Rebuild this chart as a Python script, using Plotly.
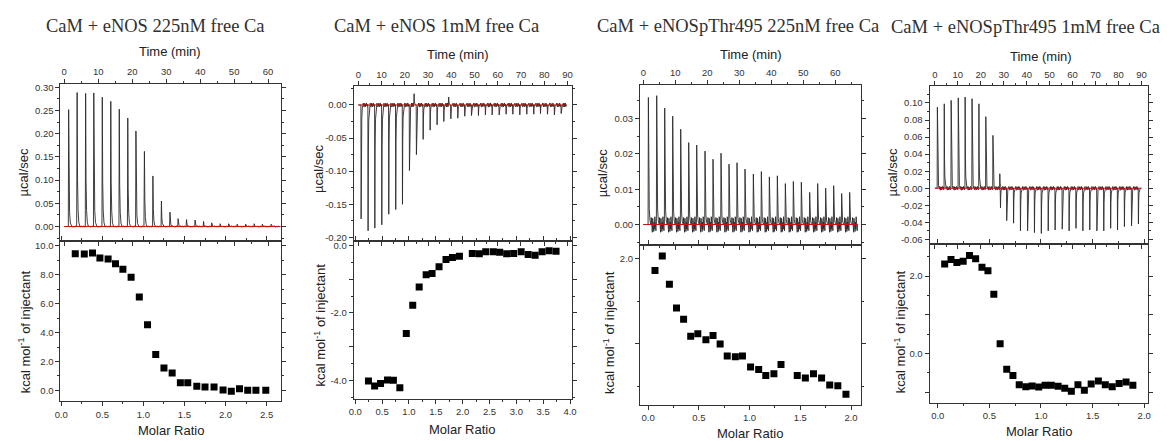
import plotly.graph_objects as go

W, H = 1167, 441

# ---------------- data ----------------
titles = ["CaM + eNOS 225nM free Ca", "CaM + eNOS 1mM free Ca",
          "CaM + eNOSpThr495 225nM free Ca", "CaM + eNOSpThr495 1mM free Ca"]

# raw thermograms: injection times (min) and peak heights (µcal/sec)
p1_inj_t = [1.2, 3.7, 6.2, 8.6, 11.1, 13.6, 16.1, 18.6, 21.0, 23.5, 26.0, 28.5, 31.0,
            33.4, 35.9, 38.4, 40.9, 43.3, 45.8, 48.3, 50.8, 53.3, 55.8, 58.2, 60.8]
p1_peak = [0.252, 0.289, 0.287, 0.288, 0.279, 0.270, 0.253, 0.234, 0.206, 0.162, 0.109,
           0.055, 0.031, 0.017, 0.015, 0.014, 0.011, 0.008, 0.006, 0.006, 0.005, 0.005,
           0.006, 0.005, 0.005]

p2_inj_t = [1.1, 4.1, 7.0, 10.0, 13.0, 16.0, 18.9, 21.9, 23.9, 24.9, 27.8, 30.8, 33.8,
            36.7, 38.8, 39.7, 42.7, 45.7, 48.6, 51.6, 54.6, 57.5, 60.5, 63.5, 66.4, 69.4,
            72.4, 75.4, 78.3, 81.3, 84.3, 87.2]
p2_peak = [-0.172, -0.190, -0.186, -0.181, -0.165, -0.158, -0.150, -0.099, 0.017, -0.075,
           -0.052, -0.038, -0.030, -0.025, 0.012, -0.021, -0.020, -0.017, -0.016, -0.016,
           -0.015, -0.015, -0.015, -0.014, -0.014, -0.015, -0.014, -0.014, -0.013, -0.014,
           -0.015, -0.013]

p3_inj_t = [1.5, 4.1, 6.6, 9.1, 11.6, 14.1, 16.6, 19.2, 21.7, 24.2, 26.7, 29.2, 31.7,
            34.3, 36.8, 39.3, 41.8, 44.3, 46.8, 49.3, 51.9, 54.4, 56.9, 59.4, 61.9, 64.4]
p3_peak = [0.0360, 0.0365, 0.0330, 0.0307, 0.0270, 0.0232, 0.0225, 0.0208, 0.0185, 0.0202,
           0.0171, 0.0175, 0.0157, 0.0143, 0.0150, 0.0135, 0.0138, 0.0116, 0.0122, 0.0120,
           0.0091, 0.0116, 0.0103, 0.0110, 0.0088, 0.0091]

p4_inj_t = [1.0, 4.0, 7.0, 10.1, 13.1, 16.1, 19.1, 22.1, 25.2, 28.2, 28.5, 31.2, 34.2,
            37.2, 40.3, 43.3, 46.3, 49.3, 52.3, 55.4, 58.4, 61.4, 64.4, 67.4, 70.5, 73.5,
            76.5, 79.5, 82.5, 85.6, 88.6]
p4_peak = [0.095, 0.099, 0.103, 0.106, 0.107, 0.105, 0.099, 0.084, 0.062, 0.017, -0.023,
           -0.038, -0.041, -0.050, -0.050, -0.052, -0.053, -0.050, -0.049, -0.048, -0.050,
           -0.047, -0.050, -0.049, -0.050, -0.050, -0.047, -0.049, -0.045, -0.044, -0.042]

# baseline noise amplitude of each recording (µcal/sec)
noise_amp = [0.0015, 0.003, 0.0022, 0.0022]

# integrated heats: molar ratio and kcal/mol of injectant
p1_ratio = [0.17, 0.28, 0.38, 0.47, 0.57, 0.66, 0.75, 0.85, 0.95, 1.05, 1.15, 1.25, 1.35,
            1.45, 1.54, 1.65, 1.75, 1.86, 1.97, 2.07, 2.17, 2.27, 2.37, 2.49]
p1_heat = [9.47, 9.45, 9.52, 9.17, 9.10, 8.76, 8.39, 7.84, 6.47, 4.54, 2.48, 1.54, 1.19,
           0.53, 0.53, 0.28, 0.23, 0.23, 0.02, -0.07, 0.11, 0.0, 0.0, 0.0]

p2_ratio = [0.245, 0.36, 0.47, 0.60, 0.71, 0.83, 0.95, 1.07, 1.19, 1.32, 1.43, 1.56, 1.69,
            1.81, 1.94, 2.18, 2.31, 2.43, 2.57, 2.69, 2.82, 2.95, 3.09, 3.22, 3.35, 3.48,
            3.61, 3.74]
p2_heat = [-4.02, -4.17, -4.09, -3.99, -4.00, -4.22, -2.61, -1.77, -1.23, -0.87, -0.83,
           -0.63, -0.42, -0.36, -0.32, -0.24, -0.25, -0.19, -0.19, -0.20, -0.25, -0.24,
           -0.19, -0.27, -0.29, -0.19, -0.16, -0.17]

p3_ratio = [0.068, 0.14, 0.21, 0.28, 0.35, 0.42, 0.49, 0.57, 0.64, 0.71, 0.78, 0.86, 0.93,
            1.01, 1.09, 1.16, 1.24, 1.31, 1.47, 1.55, 1.63, 1.71, 1.79, 1.87, 1.95]
p3_heat = [1.86, 2.03, 1.70, 1.42, 1.29, 1.09, 1.12, 1.05, 1.10, 1.00, 0.86, 0.85, 0.86,
           0.73, 0.70, 0.63, 0.65, 0.76, 0.63, 0.60, 0.65, 0.60, 0.52, 0.51, 0.41]

p4_ratio = [0.067, 0.128, 0.185, 0.246, 0.307, 0.367, 0.428, 0.486, 0.543, 0.604, 0.668,
            0.728, 0.789, 0.853, 0.914, 0.978, 1.04, 1.10, 1.166, 1.23, 1.294, 1.358, 1.42,
            1.486, 1.556, 1.623, 1.69, 1.757, 1.824, 1.89]
p4_heat = [2.31, 2.43, 2.35, 2.38, 2.53, 2.45, 2.23, 2.14, 1.53, 0.25, -0.41, -0.57, -0.81,
           -0.86, -0.84, -0.87, -0.82, -0.82, -0.85, -0.90, -0.98, -0.81, -0.95, -0.79,
           -0.71, -0.81, -0.86, -0.78, -0.74, -0.82]

# time span of each recording (min)
rec_end = [63.6, 89.5, 67.0, 90.0]

# tick labels
time_ticks = [[0, 10, 20, 30, 40, 50, 60], [0, 10, 20, 30, 40, 50, 60, 70, 80, 90],
              [0, 10, 20, 30, 40, 50, 60], [0, 10, 20, 30, 40, 50, 60, 70, 80, 90]]
ratio_ticks = [[0.0, 0.5, 1.0, 1.5, 2.0, 2.5],
               [0.0, 0.5, 1.0, 1.5, 2.0, 2.5, 3.0, 3.5, 4.0],
               [0.0, 0.5, 1.0, 1.5, 2.0], [0.0, 0.5, 1.0, 1.5, 2.0]]
raw_ticks = [[0.0, 0.05, 0.10, 0.15, 0.20, 0.25, 0.30],
             [-0.20, -0.15, -0.10, -0.05, 0.0],
             [0.0, 0.01, 0.02, 0.03],
             [-0.06, -0.04, -0.02, 0.0, 0.02, 0.04, 0.06, 0.08, 0.10]]
raw_labels = [["0.00", "0.05", "0.10", "0.15", "0.20", "0.25", "0.30"],
              ["-0.20", "-0.15", "-0.10", "-0.05", "0.00"],
              ["0.00", "0.01", "0.02", "0.03"],
              ["-0.06", "-0.04", "-0.02", "0.00", "0.02", "0.04", "0.06", "0.08", "0.10"]]
heat_ticks = [[0, 2, 4, 6, 8, 10], [-4, -3, -2, -1, 0], [1, 2], [-1, 0, 1, 2]]
heat_labels = [["0.0", "2.0", "4.0", "6.0", "8.0", "10.0"],
               ["-4.0", "", "-2.0", "", "0.0"], ["", "2.0"], ["", "0.0", "", "2.0"]]

# ---------------- layout geometry (pixels) ----------------
box_x = [(55, 278), (351, 571), (640, 863), (932.3, 1152.7)]
box_top = [(82.7, 241), (85, 241), (83.3, 245), (85, 244)]
box_bot = [(241, 402), (241, 399.3), (245, 405.7), (244, 403.3)]
time_rng = [(-1.1, 63.9), (-2.0, 91.8), (-1.03, 68.0), (-2.33, 92.8)]
raw_rng = [(-0.032, 0.307), (-0.206, 0.028), (-0.0059, 0.0396), (-0.0658, 0.1194)]
ratio_rng = [(-0.01, 2.68), (-0.03, 4.03), (-0.08, 2.097), (-0.08, 2.035)]
heat_rng = [(-0.76, 10.32), (-4.54, 0.12), (0.286, 2.155), (-1.27, 2.82)]
raw_minor = [0.025, 0.025, 0.005, 0.01]
heat_minor = [1, 0.5, 0.5, 0.5]

title_pos = [(151, 24), (434.5, 24), (738.5, 24), (1029.5, 25)]
time_title_pos = [(166, 50), (456.7, 53), (751.7, 53), (1045, 55)]
ratio_title_pos = [(166.7, 431.7), (460.8, 430), (751.2, 434.5), (1043.3, 432.7)]
ucal_pos = [(17.3, 171.5), (316, 168), (603, 172), (895, 172)]
kcal_pos = [(19, 331.7), (316.7, 325), (608, 333), (902, 332)]

# drawing style of one injection peak (offset in min, fraction of peak height)
shape_dt = [-0.04, 0.0, 0.1, 0.22, 0.38, 0.6, 0.9]
shape_fr = [0.0, 0.0, 1.0, 0.35, 0.12, 0.03, 0.0]
# drawing style of the baseline ripple between peaks (fraction of noise amplitude)
ripple = [0.9, -0.7, 0.5, -1.0, 0.8, -0.4, 0.6, -0.9, 0.3, -0.6, 1.0, -0.5, 0.4, -0.8]


def thermogram(times, peaks, t_end, amp):
    xs, ys = [0.0], [0.0]
    for k, (t, h) in enumerate(zip(times, peaks)):
        for dt, fr in zip(shape_dt, shape_fr):
            xs.append(t + dt)
            ys.append(h * fr)
        t_next = times[k + 1] if k + 1 < len(times) else t_end
        a = t + shape_dt[-1] + 0.05
        b = t_next + shape_dt[0] - 0.05
        if b - a > 0.4:
            n = len(ripple)
            for j, r in enumerate(ripple):
                xs.append(a + (b - a) * (j + 0.5) / n)
                ys.append(r * amp)
            xs.append(b)
            ys.append(0.0)
    xs.append(t_end)
    ys.append(0.0)
    return xs, ys


def px2x(px):
    return px / W


def py2y(py):
    return 1 - py / H


raw_sets = [(p1_inj_t, p1_peak), (p2_inj_t, p2_peak), (p3_inj_t, p3_peak), (p4_inj_t, p4_peak)]
heat_sets = [(p1_ratio, p1_heat), (p2_ratio, p2_heat), (p3_ratio, p3_heat), (p4_ratio, p4_heat)]

fig = go.Figure()
AX = "#333333"
tickfont = dict(family="Liberation Sans, Arial, sans-serif", size=9.5, color="#333333")
common = dict(showline=True, linecolor=AX, linewidth=1, mirror="ticks", ticks="outside",
              ticklen=4, tickcolor=AX, tickwidth=1, showgrid=False, zeroline=False,
              tickfont=tickfont, fixedrange=True)

layout_axes = {}
for i in range(4):
    a_top = 2 * i + 1
    a_bot = 2 * i + 2
    xs, ys = thermogram(raw_sets[i][0], raw_sets[i][1], rec_end[i], noise_amp[i])
    fig.add_trace(go.Scatter(x=xs, y=ys, mode="lines", line=dict(color="#2a2a2a", width=0.9),
                             xaxis="x%d" % a_top, yaxis="y%d" % a_top, showlegend=False,
                             hoverinfo="skip"))
    fig.add_trace(go.Scatter(x=[0.0, rec_end[i]], y=[0.0, 0.0], mode="lines",
                             line=dict(color="#d01010", width=1),
                             xaxis="x%d" % a_top, yaxis="y%d" % a_top, showlegend=False,
                             hoverinfo="skip"))
    fig.add_trace(go.Scatter(x=heat_sets[i][0], y=heat_sets[i][1], mode="markers",
                             marker=dict(symbol="square", size=7, color="black",
                                         line=dict(width=0)),
                             xaxis="x%d" % a_bot, yaxis="y%d" % a_bot, showlegend=False))

    xd = [px2x(box_x[i][0]), px2x(box_x[i][1])]
    layout_axes["xaxis%d" % a_top] = dict(
        common, domain=xd, range=list(time_rng[i]), side="top", anchor="y%d" % a_top,
        tickmode="array", tickvals=time_ticks[i], ticktext=[str(v) for v in time_ticks[i]],
        minor=dict(tickmode="linear", tick0=5, dtick=10, ticks="outside", ticklen=2,
                   tickcolor=AX))
    layout_axes["yaxis%d" % a_top] = dict(
        common, domain=[py2y(box_top[i][1]), py2y(box_top[i][0])], range=list(raw_rng[i]),
        anchor="x%d" % a_top, tickmode="array", tickvals=raw_ticks[i], ticktext=raw_labels[i],
        minor=dict(tickmode="linear", tick0=0, dtick=raw_minor[i], ticks="outside",
                   ticklen=2, tickcolor=AX))
    layout_axes["xaxis%d" % a_bot] = dict(
        common, domain=xd, range=list(ratio_rng[i]), side="bottom", anchor="y%d" % a_bot,
        tickmode="array", tickvals=ratio_ticks[i],
        ticktext=["%.1f" % v for v in ratio_ticks[i]],
        minor=dict(tickmode="linear", tick0=0, dtick=0.25, ticks="outside", ticklen=2,
                   tickcolor=AX))
    layout_axes["yaxis%d" % a_bot] = dict(
        common, domain=[py2y(box_bot[i][1]), py2y(box_bot[i][0])], range=list(heat_rng[i]),
        anchor="x%d" % a_bot, tickmode="array", tickvals=heat_ticks[i],
        ticktext=heat_labels[i],
        minor=dict(tickmode="linear", tick0=0, dtick=heat_minor[i], ticks="outside",
                   ticklen=2, tickcolor=AX))

ann = []
lab_font = dict(family="Liberation Sans, Arial, sans-serif", size=13, color="#222222")
for i in range(4):
    ann.append(dict(x=px2x(title_pos[i][0]), y=py2y(title_pos[i][1]), text=titles[i],
                    font=dict(family="Liberation Serif, Times New Roman, serif", size=18.5,
                              color="#303030")))
    ann.append(dict(x=px2x(time_title_pos[i][0]), y=py2y(time_title_pos[i][1]),
                    text="Time (min)", font=lab_font))
    ann.append(dict(x=px2x(ratio_title_pos[i][0]), y=py2y(ratio_title_pos[i][1]),
                    text="Molar Ratio", font=lab_font))
    ann.append(dict(x=px2x(ucal_pos[i][0]), y=py2y(ucal_pos[i][1]), text="µcal/sec",
                    textangle=-90, font=lab_font))
    ann.append(dict(x=px2x(kcal_pos[i][0]), y=py2y(kcal_pos[i][1]),
                    text="kcal mol<sup>-1</sup> of injectant", textangle=-90, font=lab_font))
for a in ann:
    a.update(xref="paper", yref="paper", xanchor="center", yanchor="middle",
             showarrow=False)

fig.update_layout(width=W, height=H, margin=dict(l=0, r=0, t=0, b=0),
                  paper_bgcolor="white", plot_bgcolor="white", showlegend=False,
                  annotations=ann, **layout_axes)

fig.write_html("out.html", config={"displayModeBar": False})
